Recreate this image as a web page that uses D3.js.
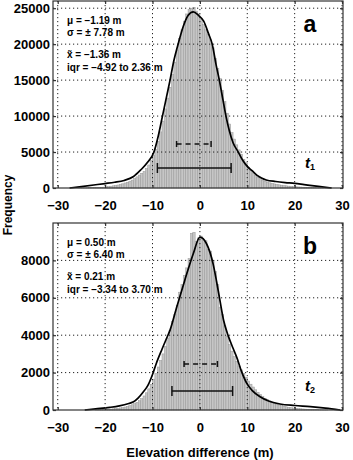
<!DOCTYPE html>
<html>
<head>
<meta charset="utf-8">
<script src="https://cdn.jsdelivr.net/npm/d3@7"></script>
<style>
  body { margin: 0; background: #fff; }
  svg text { font-family: "Liberation Sans", Arial, Helvetica, sans-serif; }
</style>
</head>
<body>
<svg id="chart" width="353" height="460"></svg>
<script>
// histogram bins: 0.5 m wide, left edges from -30 to 29.5
const binWidth = 0.5;
const binStart = d3.range(-30, 30, binWidth);

// panel a (t1) counts per bin
const countsA = [
  0, 0, 0, 0, 0, 0, 0, 0, 10, 10,            // -30 .. -25.5
  20, 20, 30, 40, 50, 60, 70, 90, 100, 120,  // -25 .. -20.5
  150, 200, 250, 300, 360, 420, 490, 580, 700, 800, // -20 .. -15.5
  950, 1100, 1300, 1550, 1800, 2050, 2300, 2700, 3200, 3800, // -15 .. -10.5
  4500, 5400, 6500, 7800, 9300, 11000, 12500, 14000, 15800, 17500, // -10 .. -5.5
  19200, 20800, 22000, 23200, 24200, 24800, 25000, 25100, 24600, 24200, // -5 .. -0.5
  23500, 22700, 22000, 21400, 20600, 19500, 18000, 16600, 15200, 13600, // 0 .. 4.5
  12000, 10400, 8900, 7700, 6800, 6000, 5300, 4700, 4000, 3500, // 5 .. 9.5
  2900, 2500, 2100, 1800, 1500, 1300, 1100, 950, 820, 720,      // 10 .. 14.5
  640, 570, 500, 440, 390, 340, 300, 260, 230, 200,             // 15 .. 19.5
  170, 150, 130, 110, 90, 75, 60, 50, 40, 30,                   // 20 .. 24.5
  25, 20, 15, 10, 5, 0, 0, 0, 0, 0                              // 25 .. 29.5
];

// panel b (t2) counts per bin
const countsB = [
  0, 0, 0, 0, 0, 0, 0, 0, 0, 0,
  0, 0, 0, 0, 0, 0, 10, 15, 20, 25,
  30, 40, 50, 60, 75, 90, 110, 130, 160, 190,
  230, 280, 340, 410, 500, 610, 750, 920, 1130, 1380,
  1650, 1950, 2300, 2650, 3000, 3400, 3850, 4250, 4750, 5100,
  5600, 6300, 6700, 7200, 7600, 8100, 9450, 9500, 9000, 9200,
  9300, 9100, 9050, 8600, 8500, 8000, 7400, 6700, 5500, 5100,
  4500, 3950, 3500, 3150, 2850, 2600, 2350, 2150, 1950, 1750,
  1550, 1380, 1230, 1080, 950, 830, 720, 630, 550, 480,
  420, 360, 310, 270, 230, 200, 170, 145, 125, 105,
  90, 75, 65, 55, 45, 38, 30, 25, 20, 15,
  10, 8, 5, 5, 0, 0, 0, 0, 0, 0
];

// fitted curves (x in m, frequency)
const curveAx = [-27.5, -25, -22, -20, -18, -16, -14, -12.5, -11, -9.7, -8.8, -7.9, -7, -6.3, -5.5, -4.6, -3.5, -2.5, -1.4, -0.3, 0.8, 1.8, 2.6, 3.4, 4.1, 4.8, 5.5, 6.2, 7, 8.1, 9, 10, 11, 12, 13, 14, 16, 18, 20, 22, 25, 27.8];
const curveAy = [0, 200, 450, 620, 800, 1050, 1600, 2500, 3600, 5000, 7200, 10000, 12800, 15000, 17700, 20000, 22500, 24000, 24500, 24000, 23200, 21500, 20000, 17200, 15000, 12500, 10000, 8000, 6300, 5000, 3900, 3000, 2400, 1800, 1400, 1120, 900, 750, 640, 470, 220, 0];

const curveBx = [-24.3, -22, -19, -17, -15, -14, -13, -12, -11, -10, -9.2, -8, -7, -6.3, -4.9, -3.2, -1.4, 0, 1.4, 2.8, 3.5, 4.2, 5, 6, 7, 7.8, 8.8, 9.9, 11, 12.7, 14.5, 16.9, 20, 23.3, 26.5, 29.6];
const curveBy = [0, 60, 140, 220, 350, 440, 650, 950, 1300, 1900, 2490, 3250, 3850, 4270, 5500, 6930, 8360, 9240, 8890, 7800, 6900, 5900, 4800, 3950, 3300, 2800, 2050, 1420, 1050, 710, 480, 320, 240, 180, 100, 0];

const xTicks = [-30, -20, -10, 0, 10, 20, 30];
const yTicksA = [0, 5000, 10000, 15000, 20000, 25000];
const yTicksB = [0, 2000, 4000, 6000, 8000];

const statsA = ["μ = −1.19 m", "σ = ± 7.78 m", "x̃ = −1.36 m", "iqr = −4.92 to 2.36 m"];
const statsB = ["μ = 0.50 m", "σ = ± 6.40 m", "x̃ = 0.21 m", "iqr = −3.34 to 3.70 m"];
const sdA = [-8.97, 6.59], iqrA = [-4.92, 2.36];
const sdB = [-5.90, 6.90], iqrB = [-3.34, 3.70];

const svg = d3.select("#chart");
const left = 53, right = 343;
const x = d3.scaleLinear().domain([-31, 30.2]).range([left, right]);

function drawPanel(o) {
  const y = d3.scaleLinear().domain([0, o.ymax]).range([o.bottom, o.top]);
  const g = svg.append("g");

  // bars
  g.selectAll("rect.bar")
    .data(binStart.map((s, i) => ({ s, c: o.counts[i] })).filter(d => d.c > 0))
    .join("rect")
    .attr("class", "bar")
    .attr("x", d => x(d.s))
    .attr("width", x(binWidth) - x(0))
    .attr("y", d => y(d.c))
    .attr("height", d => y(0) - y(d.c))
    .attr("fill", "#c6c6c6")
    .attr("stroke", "#989898")
    .attr("stroke-width", 0.5);

  // dotted grid on top of bars
  g.selectAll("line.vg").data(xTicks).join("line")
    .attr("x1", d => x(d)).attr("x2", d => x(d))
    .attr("y1", o.top).attr("y2", o.bottom)
    .attr("stroke", "#222").attr("stroke-width", 1)
    .attr("stroke-dasharray", "1.2,2.8");
  g.selectAll("line.hg").data(o.yTicks.filter(d => d > 0)).join("line")
    .attr("x1", left).attr("x2", right)
    .attr("y1", d => y(d)).attr("y2", d => y(d))
    .attr("stroke", "#222").attr("stroke-width", 1)
    .attr("stroke-dasharray", "1.2,2.8");

  // fitted curve
  g.append("path")
    .datum(o.cx.map((v, i) => [v, o.cy[i]]))
    .attr("fill", "none")
    .attr("stroke", "#000")
    .attr("stroke-width", 1.7)
    .attr("d", d3.line().x(d => x(d[0])).y(d => y(d[1])).curve(d3.curveMonotoneX));

  // frame and inward ticks
  g.append("rect")
    .attr("x", left).attr("y", o.top)
    .attr("width", right - left).attr("height", o.bottom - o.top)
    .attr("fill", "none").attr("stroke", "#333").attr("stroke-width", 1.2);

  const styleAxis = sel => {
    sel.select(".domain").remove();
    sel.selectAll("line").attr("stroke", "#333").attr("stroke-width", 1.2);
    sel.selectAll("text")
      .attr("fill", "#000")
      .attr("font-size", "13px")
      .attr("font-weight", "bold")
      .attr("font-family", "'Liberation Sans', Arial, sans-serif");
  };

  g.append("g").attr("transform", `translate(${left},0)`)
    .call(d3.axisLeft(y).tickValues(o.yTicks).tickFormat(d3.format("d"))
      .tickSizeInner(-3).tickSizeOuter(0).tickPadding(3))
    .call(styleAxis);
  g.append("g").attr("transform", `translate(${right},0)`)
    .call(d3.axisRight(y).tickValues(o.yTicks).tickFormat("")
      .tickSizeInner(-3).tickSizeOuter(0))
    .call(styleAxis);
  g.append("g").attr("transform", `translate(0,${o.top})`)
    .call(d3.axisTop(x).tickValues(xTicks).tickFormat("")
      .tickSizeInner(-3).tickSizeOuter(0))
    .call(styleAxis);
  g.append("g").attr("transform", `translate(0,${o.bottom})`)
    .call(d3.axisBottom(x).tickValues(xTicks).tickFormat(d3.format("d"))
      .tickSizeInner(-3).tickSizeOuter(0).tickPadding(13))
    .call(styleAxis);

  // error bars: mean ± sd (solid) and iqr (dashed)
  const bar = (rng, yy, cap, dash) => {
    g.append("line")
      .attr("x1", x(rng[0])).attr("x2", x(rng[1]))
      .attr("y1", yy).attr("y2", yy)
      .attr("stroke", "#111").attr("stroke-width", 1.5)
      .attr("stroke-dasharray", dash ? "5,4" : null);
    rng.forEach(v => g.append("line")
      .attr("x1", x(v)).attr("x2", x(v))
      .attr("y1", yy - cap / 2).attr("y2", yy + cap / 2)
      .attr("stroke", "#111").attr("stroke-width", 1.5));
  };
  bar(o.sd, o.sdY, 10, false);
  bar(o.iqr, o.iqrY, 6, true);

  // statistics text
  const st = g.append("g").attr("font-size", "10px").attr("font-weight", "bold");
  o.stats.forEach((s, i) => {
    st.append("text")
      .attr("x", 67)
      .attr("y", o.top + [23, 35, 57, 70][i])
      .text(s);
  });

  // panel letter
  g.append("text")
    .attr("x", 310).attr("y", o.top + 31)
    .attr("text-anchor", "middle")
    .attr("font-size", "23px").attr("font-weight", "bold")
    .text(o.letter);

  // time label t with subscript
  const t = g.append("text")
    .attr("x", 305).attr("y", o.tY)
    .attr("font-size", "15px").attr("font-weight", "bold").attr("font-style", "italic");
  t.append("tspan").text("t");
  t.append("tspan").attr("font-size", "9px").attr("font-style", "normal").attr("dy", 2).text(o.sub);
}

drawPanel({
  top: 1, bottom: 188, ymax: 26000, yTicks: yTicksA,
  counts: countsA, cx: curveAx, cy: curveAy,
  sd: sdA, iqr: iqrA, sdY: 168, iqrY: 144,
  stats: statsA, letter: "a", tY: 168, sub: "1"
});
drawPanel({
  top: 223, bottom: 410, ymax: 10000, yTicks: yTicksB,
  counts: countsB, cx: curveBx, cy: curveBy,
  sd: sdB, iqr: iqrB, sdY: 391, iqrY: 364,
  stats: statsB, letter: "b", tY: 391, sub: "2"
});

// axis titles
svg.append("text")
  .attr("x", 200).attr("y", 457)
  .attr("text-anchor", "middle")
  .attr("font-size", "13px").attr("font-weight", "bold")
  .text("Elevation difference (m)");

// y title kept against the left edge, between the two panels
svg.append("text")
  .attr("transform", "translate(12,205) rotate(-90)")
  .attr("text-anchor", "middle")
  .attr("font-size", "12px").attr("font-weight", "bold")
  .text("Frequency");
</script>
</body>
</html>
